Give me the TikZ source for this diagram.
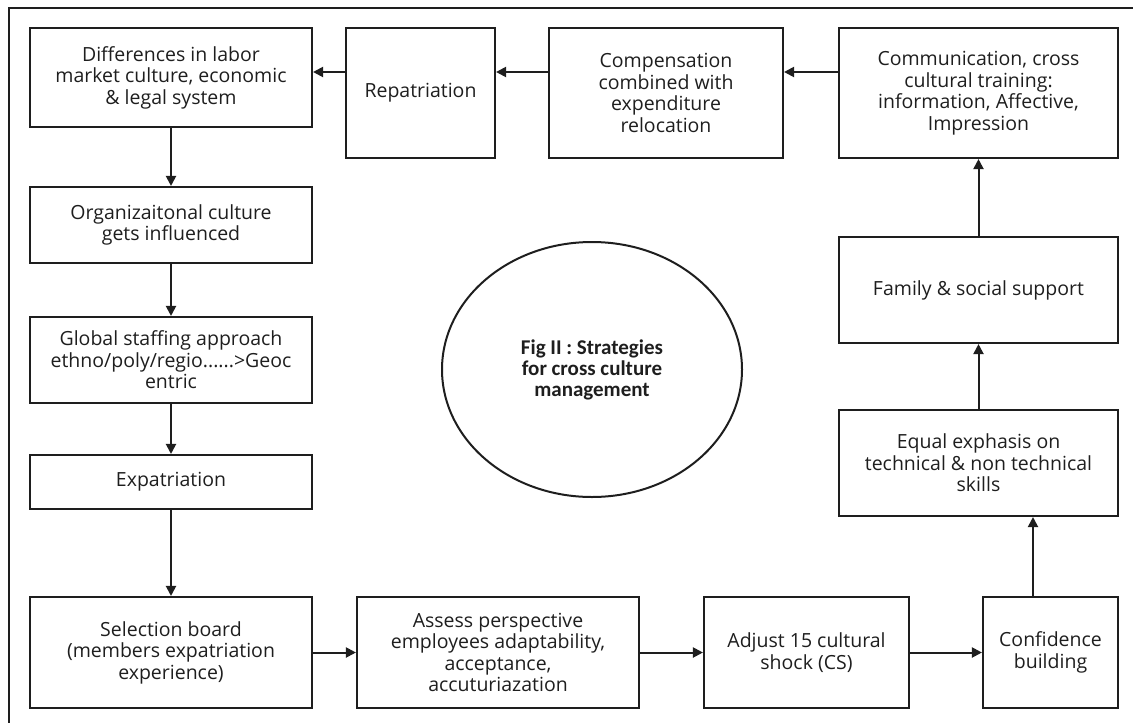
\documentclass[tikz,border=0pt]{standalone}
\usepackage{fontspec}
\setmainfont{Open Sans}
\newfontfamily\figfont{Carlito}
\usetikzlibrary{arrows.meta,shapes.geometric}
\definecolor{ink}{HTML}{1E1E1E}
\begin{document}
\begin{tikzpicture}[x=1pt,y=-1pt,
  box/.style={draw=ink,line width=2.1pt,inner sep=0pt,align=center,text=ink,
    font=\fontsize{19.5}{21.5}\selectfont},
  arr/.style={draw=ink,line width=2pt,-{Triangle[length=10pt,width=10pt]}}]
\useasboundingbox (0,0) rectangle (1133,723);
\draw[ink,line width=2.8pt] (9,723) -- (9,8) -- (1133,8);
% nodes
\node[box,minimum width=282pt,minimum height=99pt] (d1) at (171,77.5) {Differences in labor\\market culture, economic\\\& legal system};
\node[box,minimum width=149pt,minimum height=130pt] (rep) at (420.5,93) {Repatriation};
\node[box,minimum width=234pt,minimum height=130pt] (comp) at (666,93) {Compensation\\combined with\\expenditure\\relocation};
\node[box,minimum width=279pt,minimum height=130pt] (comm) at (978.5,93) {Communication, cross\\cultural training:\\information, Affective,\\Impression};
\node[box,minimum width=282pt,minimum height=76pt] (org) at (171,225) {Organizaitonal culture\\gets influenced};
\node[box,minimum width=282pt,minimum height=86pt] (glob) at (171,360) {Global staffing approach\\ethno/poly/regio......>Geoc\\entric};
\node[box,minimum width=282pt,minimum height=54pt] (exp) at (171,482) {Expatriation};
\node[box,minimum width=282pt,minimum height=111pt] (sel) at (171,652.5) {Selection board\\(members expatriation\\experience)};
\node[box,minimum width=282pt,minimum height=111pt] (ass) at (498,652.5) {Assess perspective\\employees adaptability,\\acceptance,\\accuturiazation};
\node[box,minimum width=205pt,minimum height=111pt] (adj) at (806.5,652.5) {Adjust 15 cultural\\shock (CS)};
\node[box,minimum width=135pt,minimum height=111pt] (conf) at (1050.5,652.5) {Confidence\\building};
\node[box,minimum width=279pt,minimum height=106pt] (eq) at (978.5,463) {Equal exphasis on\\technical \& non technical\\skills};
\node[box,minimum width=279pt,minimum height=106pt] (fam) at (978.5,290) {Family \& social support};
\node[draw=ink,line width=2pt,ellipse,minimum width=300pt,minimum height=255pt,inner sep=0pt,
  align=center,text=ink,font=\figfont\bfseries\fontsize{21}{21}\selectfont] (fig) at (592,369.5)
  {Fig II : Strategies\\for cross culture\\management};
% helper coordinates
\coordinate (ytop) at (0,72);
\coordinate (xconf) at (1033,0);
% connectors
\draw[arr] (rep.west |- ytop) -- (d1.east |- ytop);
\draw[arr] (comp.west |- ytop) -- (rep.east |- ytop);
\draw[arr] (comm.west |- ytop) -- (comp.east |- ytop);
\draw[arr] (d1.south) -- (org.north);
\draw[arr] (org.south) -- (glob.north);
\draw[arr] (glob.south) -- (exp.north);
\draw[arr] (exp.south) -- (sel.north);
\draw[arr] (sel.east) -- (ass.west);
\draw[arr] (ass.east) -- (adj.west);
\draw[arr] (adj.east) -- (conf.west);
\draw[arr] (conf.north -| xconf) -- (eq.south -| xconf);
\draw[arr] (eq.north) -- (fam.south);
\draw[arr] (fam.north) -- (comm.south);
\end{tikzpicture}
\end{document}
